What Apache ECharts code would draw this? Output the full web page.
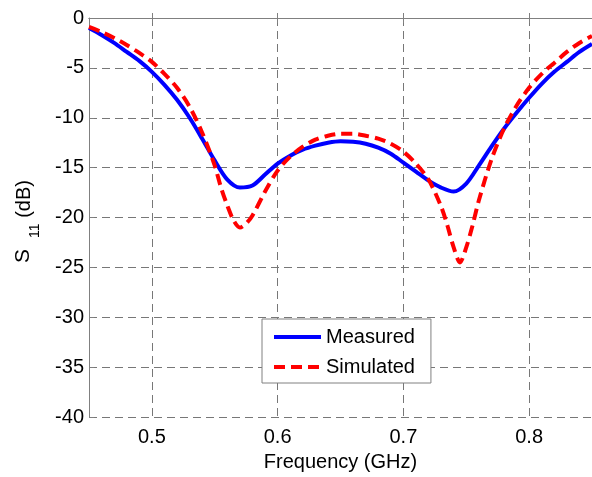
<!DOCTYPE html>
<html>
<head>
<meta charset="utf-8">
<script src="https://cdn.jsdelivr.net/npm/echarts@6/dist/echarts.min.js"></script>
<style>
html,body{margin:0;padding:0;background:#fff;}
#chart{width:592px;height:477px;}
</style>
</head>
<body>
<div id="chart"></div>
<script>
// Frequency (GHz)
const measuredFreq = [0.45,0.46,0.47,0.48,0.49,0.50,0.51,0.52,0.53,0.54,0.55,0.56,0.57,0.58,0.59,0.60,0.61,0.62,0.63,0.64,0.65,0.66,0.67,0.68,0.69,0.70,0.71,0.72,0.73,0.74,0.75,0.76,0.77,0.78,0.79,0.80,0.81,0.82,0.83,0.84,0.85];
const measuredS11 = [-1.0,-1.7,-2.5,-3.4,-4.3,-5.4,-6.7,-8.2,-10.0,-12.1,-14.3,-16.2,-17.0,-16.8,-15.7,-14.6,-13.8,-13.2,-12.8,-12.5,-12.35,-12.4,-12.6,-13.0,-13.6,-14.5,-15.4,-16.3,-17.0,-17.4,-16.6,-14.8,-12.9,-11.1,-9.5,-8.0,-6.6,-5.4,-4.4,-3.4,-2.6];

const simulatedFreq = [0.45,0.46,0.47,0.48,0.49,0.50,0.51,0.52,0.53,0.54,0.55,0.555,0.56,0.565,0.57,0.575,0.58,0.59,0.60,0.61,0.62,0.63,0.64,0.65,0.66,0.67,0.68,0.69,0.70,0.71,0.72,0.73,0.735,0.74,0.745,0.75,0.755,0.76,0.77,0.78,0.79,0.80,0.81,0.82,0.83,0.84,0.85];
const simulatedS11 = [-0.9,-1.4,-2.0,-2.7,-3.5,-4.4,-5.6,-7.0,-8.9,-11.5,-14.8,-17.0,-18.8,-20.3,-21.0,-20.6,-19.8,-17.4,-15.3,-13.9,-12.9,-12.2,-11.8,-11.6,-11.6,-11.8,-12.1,-12.6,-13.4,-14.6,-16.2,-18.9,-20.8,-23.0,-24.5,-23.0,-20.8,-18.3,-14.2,-11.1,-8.8,-7.0,-5.6,-4.5,-3.4,-2.5,-1.8];

const xTicks = [0.5,0.6,0.7,0.8];
const seriesNames = ['Measured','Simulated'];

const FONT = '"Liberation Sans", Arial, Helvetica, sans-serif';
const gridColor = '#777';
const axisColor = '#808080';

const chart = echarts.init(document.getElementById('chart'), null, {renderer:'canvas'});
const option = {
  backgroundColor:'#fff',
  animation:false,
  textStyle:{fontFamily:FONT},
  grid:{left:89, top:18, right:0, bottom:58, containLabel:false},
  legend:{
    data:seriesNames,
    orient:'vertical',
    left:262, top:319,
    padding:[8,16,6,10],
    itemGap:10,
    itemWidth:47, itemHeight:14,
    backgroundColor:'#fff',
    borderColor:'#808080', borderWidth:1, borderRadius:0,
    textStyle:{fontFamily:FONT, fontSize:20, color:'#000'},
    lineStyle:{width:4},
    itemStyle:{opacity:0}
  },
  xAxis:[{
    type:'value', min:0.45, max:0.85, interval:0.05,
    name:'Frequency (GHz)', nameLocation:'middle', nameGap:35,
    nameTextStyle:{fontFamily:FONT, fontSize:20, color:'#000'},
    axisLine:{show:true, lineStyle:{color:axisColor, width:1}},
    axisTick:{show:true, inside:true, length:5, lineStyle:{color:axisColor},
      customValues: xTicks},
    axisLabel:{fontFamily:FONT, fontSize:20, color:'#000', margin:10,
      customValues: xTicks, formatter:v=>v.toFixed(1)},
    splitLine:{show:true, lineStyle:{color:gridColor, type:[8,5], width:1}},
  },{
    type:'value', min:0.45, max:0.85, position:'top',
    axisLine:{show:true, lineStyle:{color:axisColor, width:1}},
    axisTick:{show:true, inside:true, length:5, lineStyle:{color:axisColor}, customValues:xTicks},
    axisLabel:{show:false},
    splitLine:{show:false}
  }],
  yAxis:{
    type:'value', min:-40, max:0, interval:5,
    name:'{s|S}{sub|11}{e| (dB)}', nameLocation:'middle', nameGap:47, nameRotate:90,
    nameTextStyle:{
      color:'#000',
      rich:{
        s:{fontFamily:FONT, fontSize:21, color:'#000', verticalAlign:'bottom', lineHeight:24, padding:[0,0,8,0]},
        sub:{fontFamily:FONT, fontSize:14, color:'#000', verticalAlign:'bottom', lineHeight:14, padding:[0,0,0,11]},
        e:{fontFamily:FONT, fontSize:20, color:'#000', verticalAlign:'bottom', lineHeight:24, padding:[0,8,8,0]}
      }
    },
    axisLine:{show:true, lineStyle:{color:axisColor, width:1}},
    axisTick:{show:true, inside:true, length:5, lineStyle:{color:axisColor}},
    axisLabel:{fontFamily:FONT, fontSize:20, color:'#000', margin:5},
    splitLine:{show:true, lineStyle:{color:gridColor, type:[8,5], width:1}},
  },
  series:[{
    name:seriesNames[0], type:'line', smooth:0.3, symbol:'none',
    data: measuredFreq.map((f,i)=>[f, measuredS11[i]]),
    lineStyle:{color:'#0000ff', width:4},
    itemStyle:{color:'#0000ff'},
    z:2
  },{
    name:seriesNames[1], type:'line', smooth:0.3, symbol:'none',
    data: simulatedFreq.map((f,i)=>[f, simulatedS11[i]]),
    lineStyle:{color:'#ff0000', width:4, type:[11,6]},
    itemStyle:{color:'#ff0000'},
    z:3
  }]
};
chart.setOption(option);
</script>
</body>
</html>
